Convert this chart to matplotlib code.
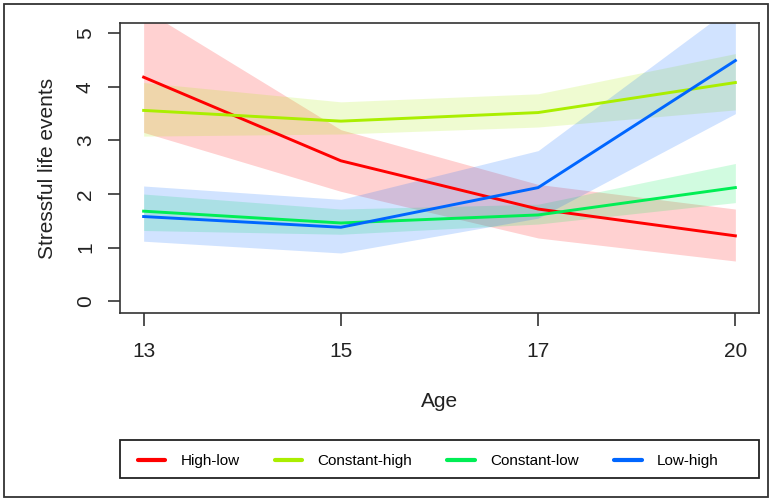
import numpy as np
import matplotlib.pyplot as plt
from matplotlib.patches import Rectangle

plt.rcParams['font.family'] = ['Liberation Sans', 'DejaVu Sans']

ages = [13, 15, 17, 20]
groups = ['High-low', 'Constant-high', 'Constant-low', 'Low-high']
colors = ['#FF0000', '#AAEE00', '#00EE55', '#0066FF']

high_low = [4.18, 2.62, 1.72, 1.22]
high_low_lo = [3.15, 2.05, 1.18, 0.75]
high_low_hi = [5.45, 3.20, 2.18, 1.72]

const_high = [3.56, 3.36, 3.52, 4.08]
const_high_lo = [3.08, 3.12, 3.25, 3.57]
const_high_hi = [4.08, 3.72, 3.87, 4.62]

const_low = [1.68, 1.46, 1.61, 2.12]
const_low_lo = [1.32, 1.25, 1.44, 1.84]
const_low_hi = [2.00, 1.72, 1.81, 2.57]

low_high = [1.58, 1.38, 2.12, 4.49]
low_high_lo = [1.12, 0.90, 1.55, 3.50]
low_high_hi = [2.15, 1.90, 2.81, 5.54]

means = [high_low, const_high, const_low, low_high]
lows = [high_low_lo, const_high_lo, const_low_lo, low_high_lo]
highs = [high_low_hi, const_high_hi, const_low_hi, low_high_hi]

fig = plt.figure(figsize=(7.72, 5.01), dpi=100)
ax = fig.add_axes([0.1554, 0.3752, 0.9832 - 0.1554, 0.954 - 0.3752])
x = np.arange(len(ages))

for lo, hi, c in zip(lows, highs, colors):
    ax.fill_between(x, lo, hi, color=c, alpha=0.18, linewidth=0)
for m, c, g in zip(means, colors, groups):
    ax.plot(x, m, color=c, lw=2.1, label=g)

ax.set_xlim(-0.12, 3.12)
ax.set_ylim(-0.22, 5.19)
ax.set_xticks(x)
ax.set_xticklabels([str(a) for a in ages])
ax.set_yticks(range(6))
ax.set_yticklabels([str(v) for v in range(6)], rotation=90, va='center')
ax.tick_params(axis='both', labelsize=15, length=9, width=1.2, color='#333333', labelcolor='#222222')
ax.tick_params(axis='x', pad=12)
ax.tick_params(axis='y', pad=9)
for s in ax.spines.values():
    s.set_color('#333333')
    s.set_linewidth(1.2)
ax.set_xlabel('Age', fontsize=15, color='#222222', labelpad=22)
ax.set_ylabel('Stressful life events', fontsize=15, color='#222222', labelpad=14)

# legend box at the bottom
fig.patches.append(Rectangle((120 / 772, 1 - 478 / 501), 639 / 772, 38 / 501,
                             transform=fig.transFigure, fill=False, ec='#222222', lw=1.3))
leg = fig.legend(loc='center left', bbox_to_anchor=(124 / 772, 1 - 461 / 501), ncol=4, frameon=False,
                 fontsize=11, handlelength=1.8, handletextpad=1.0, columnspacing=2.3)
for ln in leg.get_lines():
    ln.set_linewidth(3)
    ln.set_solid_capstyle('round')
# outer frame
fig.patches.append(Rectangle((4 / 772, 4 / 501), 764 / 772, 493 / 501,
                             transform=fig.transFigure, fill=False, ec='#333333', lw=1.3))

plt.savefig('out.png', dpi=100)
